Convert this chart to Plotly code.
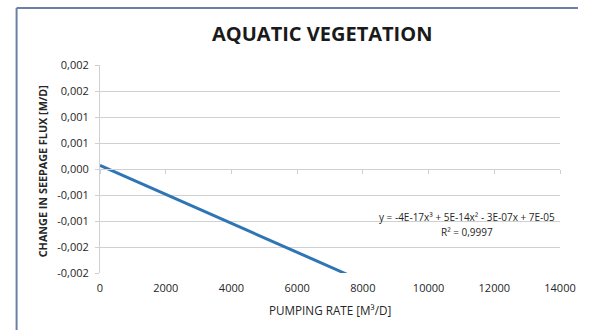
import plotly.graph_objects as go

# Data
pumping_rate = [0, 1000, 2000, 3000, 4000, 5000, 6000, 7000, 7500]
seepage_change = [0.00007, -0.00021, -0.00049, -0.00076, -0.00104, -0.00132, -0.00160, -0.00188, -0.00202]

x_ticks = [0, 2000, 4000, 6000, 8000, 10000, 12000, 14000]
y_ticks = [0.002, 0.0015, 0.001, 0.0005, 0.0, -0.0005, -0.001, -0.0015, -0.002]
y_tick_text = ["0,002", "0,002", "0,001", "0,001", "0,000", "-0,001", "-0,001", "-0,002", "-0,002"]

title_text = "AQUATIC VEGETATION"
x_title = "PUMPING RATE [M³/D]"
y_title = "CHANGE IN SEEPAGE FLUX [M/D]"
equation = "y = -4E-17x³ + 5E-14x² - 3E-07x + 7E-05"
r_squared = "R² = 0,9997"

W, H = 589, 335
L, R, T, B = 99.5, 560, 65, 273  # plot area in pixels
pw, ph = R - L, B - T

def px_x(p):
    return (p - L) / pw

def px_y(p):
    return (B - p) / ph

FONT = "Open Sans"
GRID = "#d0d0d0"
TXT = "#262626"
FRAME = "#6b80a8"

fig = go.Figure()
fig.add_trace(go.Scatter(
    x=pumping_rate, y=seepage_change, mode="lines",
    line=dict(color="#2e75b6", width=3), showlegend=False, hoverinfo="skip"))
# companion trace on the overlaid axis at y=0 (tick marks)
fig.add_trace(go.Scatter(
    x=pumping_rate, y=seepage_change, mode="lines", xaxis="x2",
    line=dict(color="rgba(0,0,0,0)", width=0), showlegend=False, hoverinfo="skip"))

fig.update_layout(
    width=W, height=H,
    margin=dict(l=L, r=W - R, t=T, b=H - B),
    paper_bgcolor="white", plot_bgcolor="white",
    font=dict(family=FONT, color=TXT, size=11),
    xaxis=dict(range=[0, 14000], tickvals=x_ticks, ticktext=[str(v) for v in x_ticks],
               showgrid=False, zeroline=False, showline=False, ticks="",
               tickfont=dict(size=11, color=TXT, family=FONT), ticklabelstandoff=7),
    xaxis2=dict(range=[0, 14000], overlaying="x", anchor="free", position=0.5,
                side="bottom", tickvals=x_ticks, showticklabels=False, showgrid=False,
                zeroline=False, showline=True, linecolor=GRID, linewidth=1,
                ticks="outside", ticklen=4, tickcolor=GRID, tickwidth=1),
    yaxis=dict(range=[-0.002, 0.002], tickvals=y_ticks, ticktext=y_tick_text,
               showgrid=True, gridcolor=GRID, gridwidth=1, zeroline=False,
               showline=True, linecolor=GRID, linewidth=1,
               ticks="outside", ticklen=4, tickcolor=GRID,
               tickfont=dict(size=11, color=TXT, family=FONT), ticklabelstandoff=4),
    annotations=[
        dict(text=title_text, xref="paper", yref="paper", x=px_x(321.5), y=px_y(33),
             xanchor="center", yanchor="middle", showarrow=False,
             font=dict(family=FONT, size=20, color="#1a1a1a", weight="bold")),
        dict(text=x_title, xref="paper", yref="paper", x=px_x(330), y=px_y(310),
             xanchor="center", yanchor="middle", showarrow=False,
             font=dict(family=FONT, size=11.7, color=TXT)),
        dict(text=y_title, xref="paper", yref="paper", x=px_x(41.7), y=px_y(171),
             xanchor="center", yanchor="middle", showarrow=False, textangle=-90,
             font=dict(family=FONT, size=10.8, color=TXT, weight="bold")),
        dict(text=equation, xref="paper", yref="paper", x=px_x(466.5), y=px_y(216.7),
             xanchor="center", yanchor="middle", showarrow=False,
             font=dict(family=FONT, size=10, color=TXT)),
        dict(text=r_squared, xref="paper", yref="paper", x=px_x(467), y=px_y(232),
             xanchor="center", yanchor="middle", showarrow=False,
             font=dict(family=FONT, size=10, color=TXT)),
    ],
    shapes=[
        dict(type="line", xref="paper", yref="paper",
             x0=px_x(16), x1=px_x(16), y0=px_y(330), y1=px_y(8),
             line=dict(color=FRAME, width=2), layer="below"),
        dict(type="line", xref="paper", yref="paper",
             x0=px_x(16), x1=px_x(578), y0=px_y(8), y1=px_y(8),
             line=dict(color=FRAME, width=2), layer="below"),
    ],
)

fig.write_html("out.html", config={"displayModeBar": False})
